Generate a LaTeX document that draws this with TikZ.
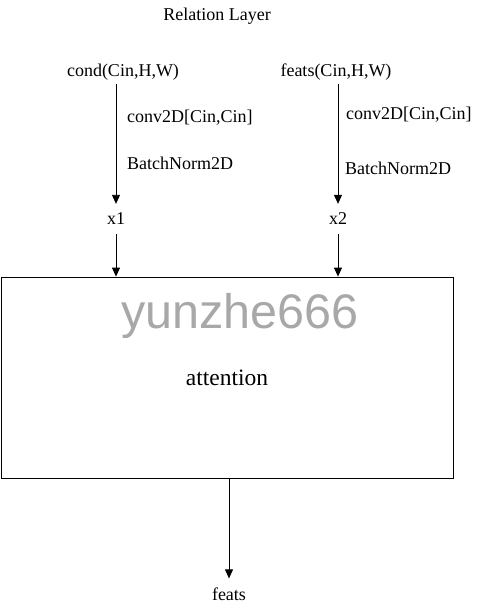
\documentclass[tikz,border=0pt]{standalone}
\usepackage{fontspec}
\setmainfont{Liberation Serif}
\newfontfamily\wmfont{Liberation Sans}
\usetikzlibrary{arrows.meta,positioning,calc}

\begin{document}
\begin{tikzpicture}[
    x=1pt, y=-1pt,
    txt/.style={font=\fontsize{18}{20}\selectfont, inner sep=4pt},
    lbl/.style={txt, anchor=west, inner sep=0pt},
    var/.style={txt, inner xsep=4pt, inner ysep=9pt},
    attbox/.style={rectangle, draw, line width=0.8pt, minimum width=452pt, minimum height=201pt, font=\fontsize{23.5}{26}\selectfont},
    arrow/.style={-{Triangle[length=9pt,width=8pt]}, line width=0.8pt}
]
    \useasboundingbox (0,0) rectangle (486,614);

    \node [txt] (title) at (217,16) {Relation Layer};

    \node [txt] (cond) at (123,72) {cond(Cin,H,W)};
    \node [txt] (feats) at (336,72) {feats(Cin,H,W)};

    \node [lbl] (conv1) at (127,118) {conv2D[Cin,Cin]};
    \node [lbl] (bn1) at (127,163) {BatchNorm2D};
    \node [lbl] (conv2) at (346,115) {conv2D[Cin,Cin]};
    \node [lbl] (bn2) at (345,168) {BatchNorm2D};

    \node [var] (xa) at (116,219) {x1};
    \node [var] (xb) at (338,219) {x2};

    \node [attbox] (att) at (227,377.5) {attention};
    \node [font=\wmfont\fontsize{48.5}{50}\selectfont, text=black!34] (wm) at (240,316) {yunzhe666};

    \node [var] (out) at (229,594) {feats};

    \draw [arrow] (cond.south -| xa) -- (xa);
    \draw [arrow] (feats.south -| xb) -- (xb);
    \draw [arrow] (xa) -- (xa |- att.north);
    \draw [arrow] (xb) -- (xb |- att.north);
    \draw [arrow] (att.south -| out) -- (out);
\end{tikzpicture}
\end{document}
